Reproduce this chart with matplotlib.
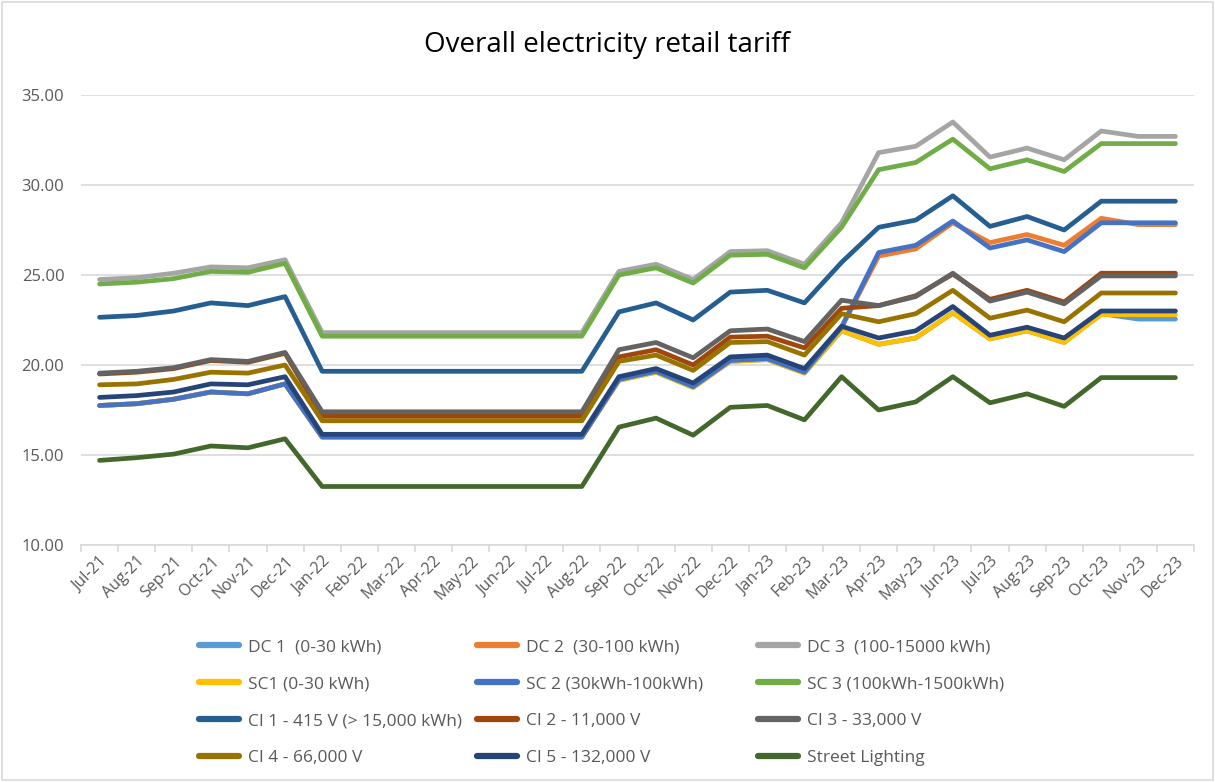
"""
Overall electricity retail tariff, Jul-21 .. Dec-23, one line per tariff class.
"""

import matplotlib
matplotlib.use('Agg')
import matplotlib.pyplot as plt
from matplotlib.lines import Line2D
from matplotlib.patches import Rectangle


# ---------------------------------------------------------------------------
# Data
# ---------------------------------------------------------------------------

months = ['Jul-21', 'Aug-21', 'Sep-21', 'Oct-21', 'Nov-21', 'Dec-21',
          'Jan-22', 'Feb-22', 'Mar-22', 'Apr-22', 'May-22', 'Jun-22',
          'Jul-22', 'Aug-22', 'Sep-22', 'Oct-22', 'Nov-22', 'Dec-22',
          'Jan-23', 'Feb-23', 'Mar-23', 'Apr-23', 'May-23', 'Jun-23',
          'Jul-23', 'Aug-23', 'Sep-23', 'Oct-23', 'Nov-23', 'Dec-23']

dc1 = [17.75, 17.85, 18.1, 18.5, 18.4, 18.95,
       16.0, 16.0, 16.0, 16.0, 16.0, 16.0, 16.0, 16.0,
       19.15, 19.6, 18.75, 20.2, 20.3, 19.55,
       21.9, 21.15, 21.5, 22.9, 21.45, 21.9, 21.25, 22.85, 22.55, 22.55]
dc2 = [17.75, 17.85, 18.1, 18.5, 18.4, 18.95,
       16.0, 16.0, 16.0, 16.0, 16.0, 16.0, 16.0, 16.0,
       19.2, 19.65, 18.8, 20.25, 20.35, 19.6,
       22.1, 26.05, 26.45, 27.9, 26.8, 27.25, 26.65, 28.15, 27.8, 27.8]
dc3 = [24.75, 24.85, 25.1, 25.45, 25.4, 25.85,
       21.8, 21.8, 21.8, 21.8, 21.8, 21.8, 21.8, 21.8,
       25.2, 25.6, 24.75, 26.3, 26.35, 25.6,
       27.9, 31.8, 32.15, 33.5, 31.55, 32.05, 31.4, 33.0, 32.7, 32.7]
sc1 = [17.75, 17.85, 18.1, 18.5, 18.4, 18.95,
       16.0, 16.0, 16.0, 16.0, 16.0, 16.0, 16.0, 16.0,
       19.15, 19.6, 18.75, 20.2, 20.3, 19.55,
       21.9, 21.15, 21.5, 22.9, 21.45, 21.9, 21.25, 22.8, 22.8, 22.8]
sc2 = [17.75, 17.85, 18.1, 18.5, 18.4, 18.95,
       16.0, 16.0, 16.0, 16.0, 16.0, 16.0, 16.0, 16.0,
       19.2, 19.65, 18.8, 20.25, 20.35, 19.6,
       22.1, 26.25, 26.65, 28.0, 26.5, 26.95, 26.3, 27.9, 27.9, 27.9]
sc3 = [24.5, 24.6, 24.8, 25.2, 25.15, 25.65,
       21.6, 21.6, 21.6, 21.6, 21.6, 21.6, 21.6, 21.6,
       25.0, 25.4, 24.55, 26.1, 26.15, 25.4,
       27.65, 30.85, 31.25, 32.55, 30.9, 31.4, 30.75, 32.3, 32.3, 32.3]
ci1 = [22.65, 22.75, 23.0, 23.45, 23.3, 23.8,
       19.65, 19.65, 19.65, 19.65, 19.65, 19.65, 19.65, 19.65,
       22.95, 23.45, 22.5, 24.05, 24.15, 23.45,
       25.7, 27.65, 28.05, 29.4, 27.7, 28.25, 27.5, 29.1, 29.1, 29.1]
ci2 = [19.5, 19.6, 19.8, 20.25, 20.15, 20.65,
       17.15, 17.15, 17.15, 17.15, 17.15, 17.15, 17.15, 17.15,
       20.45, 20.85, 20.0, 21.55, 21.6, 20.95,
       23.15, 23.3, 23.85, 25.05, 23.65, 24.15, 23.5, 25.1, 25.1, 25.1]
ci3 = [19.55, 19.65, 19.85, 20.3, 20.2, 20.7,
       17.4, 17.4, 17.4, 17.4, 17.4, 17.4, 17.4, 17.4,
       20.85, 21.25, 20.4, 21.9, 22.0, 21.3,
       23.6, 23.3, 23.8, 25.1, 23.55, 24.05, 23.4, 24.95, 24.95, 24.95]
ci4 = [18.9, 18.95, 19.2, 19.6, 19.55, 20.0,
       16.9, 16.9, 16.9, 16.9, 16.9, 16.9, 16.9, 16.9,
       20.2, 20.55, 19.7, 21.25, 21.3, 20.55,
       22.85, 22.4, 22.85, 24.15, 22.6, 23.05, 22.4, 24.0, 24.0, 24.0]
ci5 = [18.2, 18.3, 18.5, 18.95, 18.9, 19.35,
       16.15, 16.15, 16.15, 16.15, 16.15, 16.15, 16.15, 16.15,
       19.35, 19.8, 19.0, 20.45, 20.55, 19.8,
       22.15, 21.5, 21.9, 23.25, 21.65, 22.1, 21.5, 23.0, 23.0, 23.0]
street = [14.7, 14.85, 15.05, 15.5, 15.4, 15.9,
          13.25, 13.25, 13.25, 13.25, 13.25, 13.25, 13.25, 13.25,
          16.55, 17.05, 16.1, 17.65, 17.75, 16.95,
          19.35, 17.5, 17.95, 19.35, 17.9, 18.4, 17.7, 19.3, 19.3, 19.3]

labels = ['DC 1  (0-30 kWh)', 'DC 2  (30-100 kWh)', 'DC 3  (100-15000 kWh)',
          'SC1 (0-30 kWh)', 'SC 2 (30kWh-100kWh)', 'SC 3 (100kWh-1500kWh)',
          'CI 1 - 415 V (> 15,000 kWh)', 'CI 2 - 11,000 V', 'CI 3 - 33,000 V',
          'CI 4 - 66,000 V', 'CI 5 - 132,000 V', 'Street Lighting']

series = [dc1, dc2, dc3, sc1, sc2, sc3, ci1, ci2, ci3, ci4, ci5, street]

colors = ['#5B9BD5', '#ED7D31', '#A5A5A5', '#FFC000', '#4472C4', '#70AD47',
          '#255E91', '#9E480E', '#636363', '#997300', '#264478', '#43682B']

yticks = [10, 15, 20, 25, 30, 35]


# ---------------------------------------------------------------------------
# Plot
# ---------------------------------------------------------------------------

def main():
    plt.rcParams['font.family'] = ['Open Sans', 'DejaVu Sans']
    text_grey = '#595959'
    grid_grey = '#D9D9D9'

    fig = plt.figure(figsize=(12.15, 7.82), dpi=100)
    ax = fig.add_axes([81 / 1215, 1 - 545 / 782, (1194 - 81) / 1215, (545 - 95) / 782])

    x = list(range(len(months)))
    for vals, col, lab in zip(series, colors, labels):
        ax.plot(x, vals, color=col, lw=3.4, label=lab,
                solid_capstyle='round', solid_joinstyle='round')

    ax.set_xlim(-0.5, len(months) - 0.5)
    ax.set_ylim(10, 35)
    ax.set_yticks(yticks)
    ax.set_yticklabels([f'{v:.2f}' for v in yticks], fontsize=12, color=text_grey)
    ax.yaxis.grid(True, color=grid_grey, lw=1.2)
    ax.set_axisbelow(True)

    # category axis: labels on points, tick marks between categories
    ax.set_xticks(x)
    ax.set_xticklabels(months, rotation=45, ha='right', rotation_mode='anchor',
                       fontsize=11.5, color=text_grey)
    ax.set_xticks([i - 0.5 for i in range(len(months) + 1)], minor=True)
    ax.tick_params(axis='x', which='major', length=0, pad=6)
    ax.tick_params(axis='x', which='minor', length=5, color=grid_grey, width=1.2)
    ax.tick_params(axis='y', length=0, pad=12)

    for s in ('top', 'right', 'left'):
        ax.spines[s].set_visible(False)
    ax.spines['bottom'].set_color(grid_grey)
    ax.spines['bottom'].set_linewidth(1.2)

    fig.text(0.5, 1 - 45 / 782, 'Overall electricity retail tariff',
             ha='center', va='center', fontsize=20, color='#000000')

    # legend: three columns, filled row by row
    col_x = [199, 477, 758]
    for c in range(3):
        idx = [c, c + 3, c + 6, c + 9]
        handles = [Line2D([0], [0], color=colors[i], lw=4.5, solid_capstyle='round')
                   for i in idx]
        leg = fig.legend(handles, [labels[i] for i in idx],
                         loc='upper left', bbox_to_anchor=(col_x[c] / 1215, 1 - 639 / 782),
                         frameon=False, fontsize=12.5, handlelength=2.3,
                         handletextpad=0.5, labelspacing=1.2,
                         borderpad=0, borderaxespad=0)
        for t in leg.get_texts():
            t.set_color(text_grey)

    # chart border
    fig.patches.append(Rectangle((0.002, 0.002), 0.996, 0.996, transform=fig.transFigure,
                                 fill=False, edgecolor=grid_grey, lw=1.2))

    fig.savefig('out.png', dpi=100)
    plt.close(fig)


if __name__ == '__main__':
    main()
